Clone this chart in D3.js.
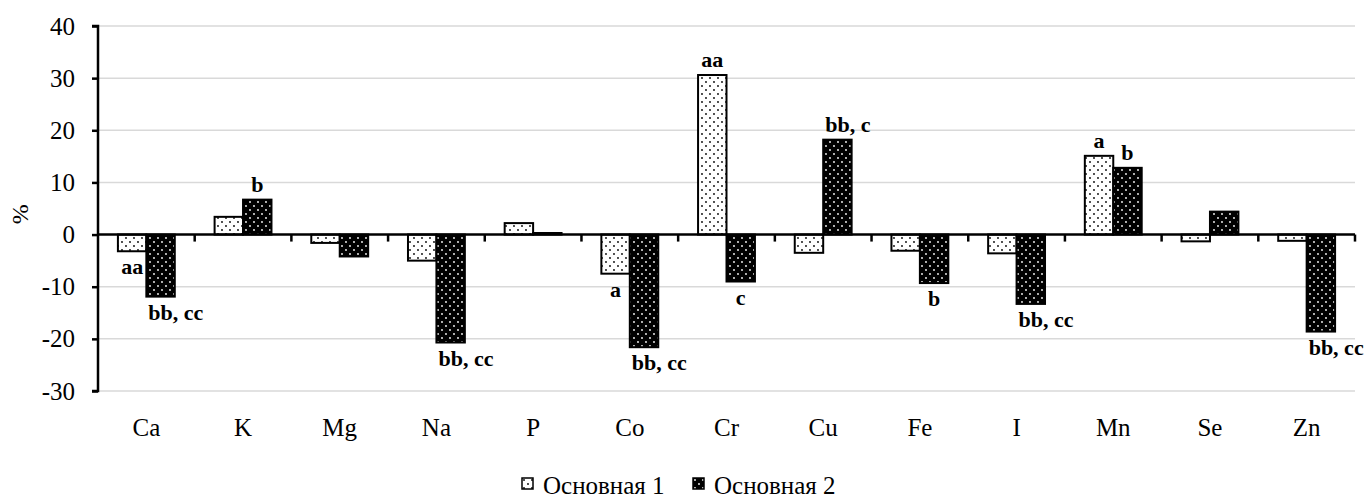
<!DOCTYPE html>
<html>
<head>
<meta charset="utf-8">
<script src="https://cdn.jsdelivr.net/npm/d3@7"></script>
<style>
  html, body { margin: 0; padding: 0; background: #fff; }
  svg { display: block; }
  svg text { font-family: "Liberation Serif", "Times New Roman", serif; }
</style>
</head>
<body>
<svg id="chart" width="1366" height="500"></svg>
<script>
const categories = ["Ca", "K", "Mg", "Na", "P", "Co", "Cr", "Cu", "Fe", "I", "Mn", "Se", "Zn"];
const seriesNames = ["Основная 1", "Основная 2"];
const values1 = [-3.2, 3.4, -1.6, -5.0, 2.2, -7.5, 30.6, -3.5, -3.1, -3.6, 15.1, -1.3, -1.2];
const values2 = [-11.9, 6.7, -4.2, -20.7, 0.3, -21.6, -9.0, 18.2, -9.3, -13.3, 12.8, 4.4, -18.6];
const labels1 = ["aa", "", "", "", "", "a", "aa", "", "", "", "a", "", ""];
const labels2 = ["bb, cc", "b", "", "bb, cc", "", "bb, cc", "c", "bb, c", "b", "bb, cc", "b", "", "bb, cc"];
const yTicks = [-30, -20, -10, 0, 10, 20, 30, 40];
const yLabel = "%";

const FONT = '"Liberation Serif", "Times New Roman", serif';
const svg = d3.select("#chart");
const margin = {left: 98, right: 11, top: 26, bottom: 109};
const W = 1366, H = 500;
const plotL = margin.left, plotR = W - margin.right, plotT = margin.top, plotB = H - margin.bottom;

// patterns
const defs = svg.append("defs");
const p1 = defs.append("pattern").attr("id", "pat1").attr("patternUnits", "userSpaceOnUse")
  .attr("width", 8).attr("height", 8);
p1.append("rect").attr("width", 8).attr("height", 8).attr("fill", "#fff");
p1.append("circle").attr("cx", 2).attr("cy", 2).attr("r", 0.9).attr("fill", "#000");
p1.append("circle").attr("cx", 6).attr("cy", 6).attr("r", 0.9).attr("fill", "#000");
const p2 = defs.append("pattern").attr("id", "pat2").attr("patternUnits", "userSpaceOnUse")
  .attr("width", 8).attr("height", 8);
p2.append("rect").attr("width", 8).attr("height", 8).attr("fill", "#000");
p2.append("circle").attr("cx", 2).attr("cy", 2).attr("r", 0.9).attr("fill", "#fff");
p2.append("circle").attr("cx", 6).attr("cy", 6).attr("r", 0.9).attr("fill", "#fff");
const fills = ["url(#pat1)", "url(#pat2)"];

const x0 = d3.scaleBand().domain(categories).range([plotL, plotR]).paddingInner(0).paddingOuter(0);
const x1 = d3.scaleBand().domain([0, 1]).range([0, x0.bandwidth()]).paddingInner(0).paddingOuter(0.7);
const y = d3.scaleLinear().domain([-30, 40]).range([plotB, plotT]);

// gridlines
svg.append("g").selectAll("line").data(yTicks.filter(t => t !== 0)).join("line")
  .attr("x1", plotL).attr("x2", plotR)
  .attr("y1", d => y(d)).attr("y2", d => y(d))
  .attr("stroke", "#d9d9d9").attr("stroke-width", 1.5);

// bars
const data = [];
categories.forEach((c, i) => {
  data.push({c, s: 0, v: values1[i], lab: labels1[i]});
  data.push({c, s: 1, v: values2[i], lab: labels2[i]});
});
svg.append("g").selectAll("rect").data(data).join("rect")
  .attr("x", d => x0(d.c) + x1(d.s))
  .attr("width", x1.bandwidth())
  .attr("y", d => Math.min(y(d.v), y(0)))
  .attr("height", d => Math.abs(y(d.v) - y(0)))
  .attr("fill", d => fills[d.s])
  .attr("stroke", "#000").attr("stroke-width", 2);

// y axis
const yAxis = d3.axisLeft(y).tickValues(yTicks).tickSize(6).tickPadding(17).tickFormat(d => String(d));
const gy = svg.append("g").attr("transform", `translate(${plotL},0)`).call(yAxis);
gy.attr("font-family", FONT);
gy.select(".domain").attr("stroke", "#000").attr("stroke-width", 2.5).attr("d", `M-6,${plotT}H0V${plotB}H-6`);
gy.selectAll(".tick line").attr("stroke", "#000").attr("stroke-width", 2.5);
gy.selectAll(".tick text").style("font-family", FONT).attr("font-size", 25).attr("fill", "#000");

// x axis at zero
const xAxis = d3.axisBottom(x0).tickSize(0).tickFormat("");
const gx = svg.append("g").attr("transform", `translate(0,${y(0)})`).call(xAxis);
gx.select(".domain").attr("stroke", "#000").attr("stroke-width", 2.5).attr("d", `M${plotL},0H${plotR}`);
const boundaries = categories.map(c => x0(c) + x0.bandwidth());
gx.selectAll(".bnd").data(boundaries).join("line").attr("class", "bnd")
  .attr("x1", d => d).attr("x2", d => d).attr("y1", 0).attr("y2", 7)
  .attr("stroke", "#000").attr("stroke-width", 2.5);

// category labels
svg.append("g").selectAll("text").data(categories).join("text")
  .attr("x", d => x0(d) + x0.bandwidth() / 2)
  .attr("y", 436)
  .attr("text-anchor", "middle")
  .style("font-family", FONT)
  .attr("font-size", 25).attr("fill", "#000")
  .text(d => d);

// y label
svg.append("text")
  .attr("transform", `translate(28,${(y(40) + y(0)) / 2 + 84}) rotate(-90)`)
  .attr("text-anchor", "middle")
  .style("font-family", FONT)
  .attr("font-size", 24).attr("fill", "#000")
  .text(yLabel);

// data labels
svg.append("g").selectAll("text").data(data.filter(d => d.lab)).join("text")
  .attr("x", d => {
    const bx = x0(d.c) + x1(d.s);
    return d.lab.length >= 4 ? bx + 2 : bx + x1.bandwidth() / 2;
  })
  .attr("y", d => d.v >= 0 ? y(d.v) - 8 : y(d.v) + 23)
  .attr("text-anchor", d => d.lab.length >= 4 ? "start" : "middle")
  .style("font-family", FONT)
  .attr("font-size", 22).attr("font-weight", "bold").attr("fill", "#000")
  .text(d => d.lab);

// legend
const legX = [522, 693];
const leg = svg.append("g").selectAll("g").data(seriesNames).join("g")
  .attr("transform", (d, i) => `translate(${legX[i]},478)`);
leg.append("rect").attr("width", 11).attr("height", 11)
  .attr("fill", (d, i) => fills[i]).attr("stroke", "#000").attr("stroke-width", 1.5);
leg.append("text").attr("x", 21).attr("y", 16)
  .style("font-family", FONT)
  .attr("font-size", 25).attr("fill", "#000")
  .text(d => d);
</script>
</body>
</html>
